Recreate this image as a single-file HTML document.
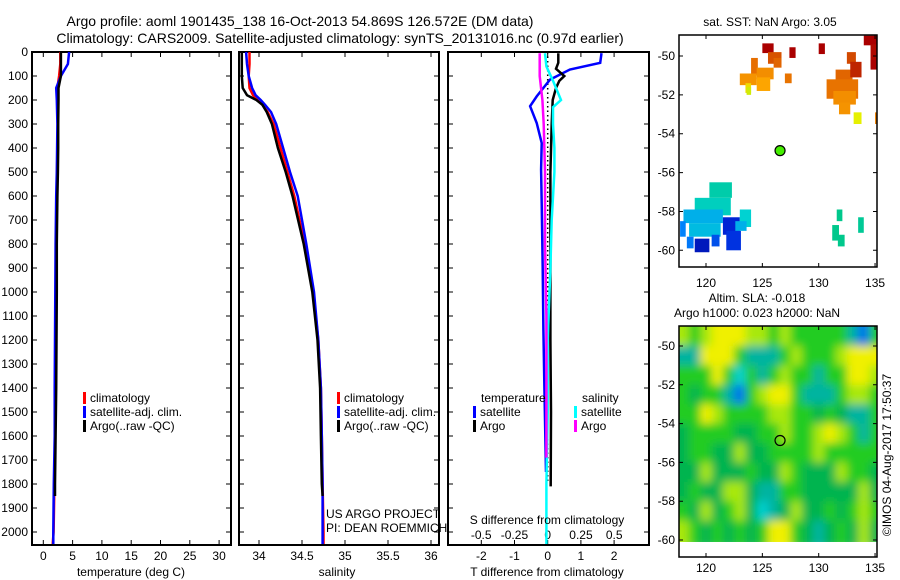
<!DOCTYPE html>
<html><head><meta charset="utf-8"><title>Argo profile</title>
<style>
html,body{margin:0;padding:0;background:#fff;}
svg{display:block;font-family:"Liberation Sans",sans-serif;}
text{fill:#000;}
</style></head>
<body>
<svg id="fig" width="900" height="580" viewBox="0 0 900 580">
<defs>
<filter id="blurSLA" x="0" y="0" width="1" height="1" filterUnits="objectBoundingBox"><feGaussianBlur stdDeviation="4.5" edgeMode="duplicate"/></filter>
</defs>
<text x="300" y="26" font-size="14" text-anchor="middle">Argo profile: aoml 1901435_138 16-Oct-2013 54.869S 126.572E (DM data)</text>
<text x="340" y="43" font-size="14" text-anchor="middle">Climatology: CARS2009. Satellite-adjusted climatology: synTS_20131016.nc (0.97d earlier)</text>
<g id="g-temp"></g>
<g id="g-sal"></g>
<g id="g-diff"></g>
<g id="g-sst"></g>
<g id="g-sla"></g>
<text x="0" y="0" font-size="12" text-anchor="middle" transform="translate(891,455) rotate(-90)">©IMOS 04-Aug-2017 17:50:37</text>
</svg>
<script>
// ---- profile data ----
const tempDepthClim = [0,50,100,150,200,300,400,500,600,800,1000,1200,1400,1600,1800,2000,2050];
const tempClim = [2.9,2.9,2.7,2.4,2.4,2.5,2.4,2.35,2.3,2.2,2.15,2.1,2.05,2.0,1.9,1.75,1.6];
const tempSat = [4.4,4.2,3.0,2.2,2.3,2.4,2.35,2.3,2.2,2.1,2.05,2.0,1.95,1.95,1.8,1.7,1.7];
const tempDepthArgo = [0,50,100,150,200,300,400,500,600,800,1000,1200,1400,1600,1800,1850];
const tempArgo = [3.0,3.0,3.0,2.6,2.6,2.55,2.55,2.5,2.4,2.3,2.3,2.25,2.2,2.1,2.0,2.0];

const salDepth = [0,50,100,150,180,200,220,250,300,400,500,600,800,1000,1200,1400,1600,1800,2000,2050];
const salClim = [33.89,33.89,33.88,33.89,33.93,33.98,34.04,34.10,34.17,34.25,34.33,34.41,34.53,34.63,34.69,34.72,34.73,34.74,34.75,34.75];
const salSat = [33.85,33.86,33.88,33.92,33.96,34.02,34.07,34.14,34.20,34.28,34.36,34.45,34.55,34.64,34.69,34.72,34.73,34.74,34.74,34.74];
const salDepthArgo = [0,50,100,150,180,200,220,250,300,400,500,600,800,1000,1200,1400,1600,1800,1850];
const salArgo = [33.80,33.80,33.80,33.81,33.86,33.97,34.04,34.09,34.15,34.22,34.31,34.39,34.52,34.62,34.68,34.71,34.72,34.73,34.74];

const dTsatDepth = [5,45,73,115,185,226,296,379,490,630,900,1157,1400,1750];
const dTsat = [1.62,1.58,0.67,0.07,-0.33,-0.53,-0.33,-0.18,-0.2,-0.18,-0.15,-0.13,-0.1,-0.05];
const dTargoDepth = [5,45,70,100,120,150,200,300,500,800,1200,1500,1810];
const dTargo = [0.32,0.32,0.25,0.5,0.35,0.25,0.15,0.12,0.08,0.08,0.08,0.1,0.09];
const dSsatDepth = [5,60,120,200,230,300,400,500,700,900,1200,1500,1800,2050];
const dSsat = [-0.02,-0.01,0.04,0.1,0.04,0.04,0.05,0.05,0.03,0.02,0.0,0.0,-0.01,-0.01];
const dSargoDepth = [5,100,200,300,500,800,1100,1400,1690];
const dSargo = [-0.06,-0.06,-0.04,-0.03,-0.02,-0.02,-0.01,-0.01,-0.01];

const depthTicks = [0,100,200,300,400,500,600,700,800,900,1000,1100,1200,1300,1400,1500,1600,1700,1800,1900,2000];
const tempTicks = [0,5,10,15,20,25,30];
const salTicks = [34,34.5,35,35.5,36];
const tTicks = [-2,-1,0,1,2];
const sTicks = [-0.5,-0.25,0,0.25,0.5];

// ---- map data ----
const mapLonTicks = [120,125,130,135];
const mapLatTicks = [-50,-52,-54,-56,-58,-60];
const argoLon = 126.57, argoLat = -54.87;
const slaLons = [118,119,120,121,122,123,124,125,126,127,128,129,130,131,132,133,134,135];
const slaLats = [-49.5,-50.5,-51.5,-52.5,-53.5,-54.5,-55.5,-56.5,-57.5,-58.5,-59.5];
const slaRows = [
"LGLYYYLLGLGGGGGTBG",
"TTYYYGTTTGLGGGLYYY",
"GGGYGCGTGLGGTGGYYL",
"GDGGTBGLYYGTTTGLLG",
"GGYLGGGGLLGGDGDTTG",
"DGGGGDDGGLGGLYLGTG",
"DGGDDLDDGGGGLGGGGG",
"DDLDDDGDDLGDDDLGGD",
"DGDDLLDTTGGDDDDDLD",
"GDLDGLDCTDLDDGDGLG",
"LGDGDGDGYYGDTDGDLD"];
// SST patches: [lonMin, latMax, lonWidth, latHeight, value degC]
const sstPatches = [
[125.0,-49.35,1.0,0.5,7.5],[127.4,-49.55,0.55,0.55,7.6],[130.0,-49.35,0.55,0.55,7.7],
[134.0,-48.95,1.3,0.5,7.6],[134.6,-49.4,0.7,1.2,7.4],[134.6,-50.2,0.6,0.5,7.7],
[125.5,-49.8,1.2,0.6,6.6],[124.0,-50.1,0.6,0.9,6.3],[123.0,-50.9,1.5,0.6,5.5],
[124.5,-50.6,1.5,0.6,5.6],[123.5,-51.4,0.5,0.5,4.3],[124.5,-51.1,1.2,0.7,5.1],
[127.0,-50.9,0.6,0.5,6.2],[126.0,-50.1,0.7,0.5,6.4],[123.6,-51.6,0.4,0.4,3.8],
[131.5,-50.7,1.5,0.8,6.4],[132.5,-49.8,0.8,0.6,6.7],[132.8,-50.3,1.0,0.8,7.1],
[130.7,-51.2,2.8,1.0,6.2],[131.3,-51.8,2.0,0.7,5.6],[131.8,-52.4,1.0,0.6,5.5],
[133.1,-52.9,0.7,0.6,4.0],[135.0,-52.9,0.3,0.6,5.9],
[120.3,-56.5,2.0,0.8,1.0],[119.0,-57.3,3.2,0.9,0.8],[118.0,-57.9,3.5,0.7,0.3],
[118.5,-58.6,2.8,0.7,0.4],[117.7,-58.5,0.5,0.8,-0.1],[118.3,-59.3,0.6,0.6,-0.2],
[119.0,-59.4,1.3,0.7,-1.4],[120.5,-59.2,0.7,0.6,-0.6],[121.5,-58.3,1.5,0.9,-1.1],
[121.8,-59.0,1.3,1.0,-0.9],[123.0,-57.9,1.0,0.9,0.6],[122.6,-58.5,1.0,0.5,0.3],
[131.6,-57.9,0.5,0.6,1.3],[131.2,-58.7,0.6,0.8,1.3],[131.7,-59.2,0.6,0.6,1.3],[133.5,-58.3,0.5,0.8,1.2]
];

const NS='http://www.w3.org/2000/svg';
function mk(parent, tag, attrs, txt){
  const e=document.createElementNS(NS,tag);
  for(const k in attrs) e.setAttribute(k,attrs[k]);
  if(txt!==undefined) e.textContent=txt;
  parent.appendChild(e); return e;
}
const yTop=52, yPerM=0.24;
function yD(d){return yTop+d*yPerM;}
const yBot=545;

function panelFrame(g,x0,x1,name){
  const r=mk(g,'rect',{x:x0,y:yTop,width:x1-x0,height:yBot-yTop,fill:'none',stroke:'#000','stroke-width':2});
  
  
  for(const d of depthTicks){
    const t=mk(g,'path',{d:`M${x0},${yD(d)}h5M${x1},${yD(d)}h-5`,stroke:'#000','stroke-width':1});
    
    
  }
}
function xTicks(g,ticks,xf,name,labelY,withTop,labelFmt){
  for(const v of ticks){
    const x=xf(v);
    const t=mk(g,'path',{d:`M${x},${yBot}v-5`+(withTop?`M${x},${yTop}v5`:''),stroke:'#000','stroke-width':1});
    
    
    if(labelY){
      const l=mk(g,'text',{x:x,y:labelY,'font-size':12,'text-anchor':'middle'},labelFmt?labelFmt(v):String(v));
      
      
    }
  }
}
function line(g,xs,ds,xf,color,name,w){
  const pts=xs.map((v,i)=>xf(v).toFixed(1)+','+yD(ds[i]).toFixed(1)).join(' ');
  const p=mk(g,'polyline',{points:pts,fill:'none',stroke:color,'stroke-width':w||2.5,'stroke-linejoin':'miter'});
  
  
}
function legend(g,x,y,color,label,name){
  const b=mk(g,'rect',{x:x,y:y-10,width:3,height:12,fill:color});
  
  
  const t=mk(g,'text',{x:x+7,y:y,'font-size':12},label);
  
  
}

// ---- temperature panel ----
const gT=document.getElementById('g-temp');
const xTemp=v=>43.3+v*5.86;
panelFrame(gT,32,231,'temperature');
for(const d of depthTicks){
  const l=mk(gT,'text',{x:28,y:yD(d)+4,'font-size':12,'text-anchor':'end'},String(d));
  
  
}
xTicks(gT,tempTicks,xTemp,'temperature',560,true);
line(gT,tempClim,tempDepthClim,xTemp,'#ff0000','temperature-climatology-line');
line(gT,tempSat,tempDepthClim,xTemp,'#0000ff','temperature-satellite-line');
line(gT,tempArgo,tempDepthArgo,xTemp,'#000000','temperature-argo-line');
legend(gT,83,402,'#ff0000','climatology','temp-legend-climatology');
legend(gT,83,416,'#0000ff','satellite-adj. clim.','temp-legend-satellite');
legend(gT,83,430,'#000000','Argo(..raw -QC)','temp-legend-argo');
let e=mk(gT,'text',{x:131,y:576,'font-size':12,'text-anchor':'middle'},'temperature (deg C)');



// ---- salinity panel ----
const gS=document.getElementById('g-sal');
const xSal=v=>259+(v-34)*86;
panelFrame(gS,239,439,'salinity');
xTicks(gS,salTicks,xSal,'salinity',560,true);
line(gS,salClim,salDepth,xSal,'#ff0000','salinity-climatology-line');
line(gS,salSat,salDepth,xSal,'#0000ff','salinity-satellite-line');
line(gS,salArgo,salDepthArgo,xSal,'#000000','salinity-argo-line');
legend(gS,337,402,'#ff0000','climatology','sal-legend-climatology');
legend(gS,337,416,'#0000ff','satellite-adj. clim.','sal-legend-satellite');
legend(gS,337,430,'#000000','Argo(..raw -QC)','sal-legend-argo');
e=mk(gS,'text',{x:326,y:518,'font-size':12},'US ARGO PROJECT');


e=mk(gS,'text',{x:326,y:532,'font-size':12},'PI: DEAN ROEMMICH');


e=mk(gS,'text',{x:337,y:576,'font-size':12,'text-anchor':'middle'},'salinity');



// ---- difference panel ----
const gD=document.getElementById('g-diff');
const xT=v=>547.7+v*33.2;
const xS=v=>547.7+v*133;
panelFrame(gD,448,649,'difference');
xTicks(gD,tTicks,xT,'t-difference',560,true);
for(const v of sTicks){
  const l=mk(gD,'text',{x:xS(v),y:539,'font-size':12,'text-anchor':'middle'},String(v));
  
  
}
e=mk(gD,'line',{x1:xT(0),y1:yD(0),x2:xT(0),y2:yD(1800),stroke:'#000','stroke-width':1.5,'stroke-dasharray':'1.5,3'});


line(gD,dTsat,dTsatDepth,xT,'#0000ff','t-diff-satellite-line');
line(gD,dTargo,dTargoDepth,xT,'#000000','t-diff-argo-line');
line(gD,dSsat,dSsatDepth,xS,'#00ffff','s-diff-satellite-line');
line(gD,dSargo,dSargoDepth,xS,'#ff00ff','s-diff-argo-line');
e=mk(gD,'text',{x:481,y:402,'font-size':12},'temperature');


e=mk(gD,'text',{x:582,y:402,'font-size':12},'salinity');


legend(gD,473,416,'#0000ff','satellite','diff-legend-t-satellite');
legend(gD,473,430,'#000000','Argo','diff-legend-t-argo');
legend(gD,574,416,'#00ffff','satellite','diff-legend-s-satellite');
legend(gD,574,430,'#ff00ff','Argo','diff-legend-s-argo');
e=mk(gD,'text',{x:547,y:524,'font-size':12,'text-anchor':'middle'},'S difference from climatology');


e=mk(gD,'text',{x:547,y:576,'font-size':12,'text-anchor':'middle'},'T difference from climatology');



// ---- maps ----
const mX0=679,mX1=877;
const lonX=lon=>706+(lon-120)*11.27;
function sstColor(v){
  const stops=[[-2,[0,0,140]],[-1,[0,40,220]],[0,[0,140,255]],[0.6,[0,210,210]],[1.3,[0,200,140]],[2.5,[60,200,60]],[4,[230,240,0]],[5,[255,170,0]],[6.3,[230,110,0]],[7.5,[170,0,0]]];
  if(v<=stops[0][0]) return `rgb(${stops[0][1]})`;
  for(let i=1;i<stops.length;i++){
    if(v<=stops[i][0]){const a=stops[i-1],b=stops[i],t=(v-a[0])/(b[0]-a[0]);
      const c=a[1].map((x,j)=>Math.round(x+(b[1][j]-x)*t));return `rgb(${c})`;}
  }
  return `rgb(${stops[stops.length-1][1]})`;
}
function mapAxes(g,yTopM,yBotM,latY,name,lonLabelY){
  for(const lat of mapLatTicks){
    const y=latY(lat);
    const t=mk(g,'path',{d:`M${mX0},${y}h4M${mX1},${y}h-4`,stroke:'#000','stroke-width':1});
    
    
    const l=mk(g,'text',{x:675,y:y+4,'font-size':12,'text-anchor':'end'},String(lat));
    
    
  }
  for(const lon of mapLonTicks){
    const x=lonX(lon);
    const t=mk(g,'path',{d:`M${x},${yTopM}v4M${x},${yBotM}v-4`,stroke:'#000','stroke-width':1});
    
    
    const l=mk(g,'text',{x:x,y:lonLabelY,'font-size':12,'text-anchor':'middle'},String(lon));
    
    
  }
  const r=mk(g,'rect',{x:mX0,y:yTopM,width:mX1-mX0,height:yBotM-yTopM,fill:'none',stroke:'#000','stroke-width':1.5});
  
  
}

// SST map
const gM=document.getElementById('g-sst');
const sstLatY=lat=>56-(lat+50)*19.43;
const cp=mk(gM,'clipPath',{id:'clipSST'});
mk(cp,'rect',{x:mX0,y:35,width:mX1-mX0,height:232});
const sg=mk(gM,'g',{'clip-path':'url(#clipSST)'});


for(const p of sstPatches){
  const r=mk(sg,'rect',{x:lonX(p[0]),y:sstLatY(p[1]),width:p[2]*11.27,height:p[3]*19.43,fill:sstColor(p[4])});
  
  
}
mapAxes(gM,35,267,sstLatY,'sst-map',287);
e=mk(gM,'circle',{cx:lonX(argoLon),cy:sstLatY(argoLat),r:5,fill:'#44ee00',stroke:'#000','stroke-width':1.2});


e=mk(gM,'text',{x:770,y:26,'font-size':12,'text-anchor':'middle'},'sat. SST: NaN Argo: 3.05');



// SLA map
const gL=document.getElementById('g-sla');
const slaLatY=lat=>346-(lat+50)*19.4;
const slaCol={G:'#22cc22',D:'#00b450',L:'#a8e810',Y:'#f0f000',T:'#00b4a0',C:'#00d0d0',B:'#0070f0',K:'#0020c0'};
const cp2=mk(gL,'clipPath',{id:'clipSLA'});
mk(cp2,'rect',{x:mX0,y:326,width:mX1-mX0,height:slaLatY(-60.1)-326});
const lgOuter=mk(gL,'g',{'clip-path':'url(#clipSLA)'});


const lg=mk(lgOuter,'g',{filter:'url(#blurSLA)'});


slaRows.forEach((row,i)=>{
  const lat=slaLats[i];
  for(let j=0;j<slaLons.length;j++){
    const lon=slaLons[j];
    const y0=slaLatY(lat+0.5)-(i===0?8:0);
    const y1=slaLatY(lat-0.5)+(i===slaRows.length-1?8:0);
    const x0=lonX(lon-0.5)-(j===0?8:0);
    const x1=lonX(lon+0.5)+(j===slaLons.length-1?8:0);
    const r=mk(lg,'rect',{x:x0,y:y0,width:x1-x0+0.5,height:y1-y0+0.5,fill:slaCol[row[j]]});
    
    
  }
});
mapAxes(gL,326,557,slaLatY,'sla-map',572);
e=mk(gL,'circle',{cx:lonX(argoLon),cy:slaLatY(argoLat),r:5,fill:'none',stroke:'#000','stroke-width':1.2});


e=mk(gL,'text',{x:757,y:302,'font-size':12,'text-anchor':'middle'},'Altim. SLA: -0.018');


e=mk(gL,'text',{x:757,y:317,'font-size':12,'text-anchor':'middle'},'Argo h1000: 0.023 h2000: NaN');


</script>
</body></html>
